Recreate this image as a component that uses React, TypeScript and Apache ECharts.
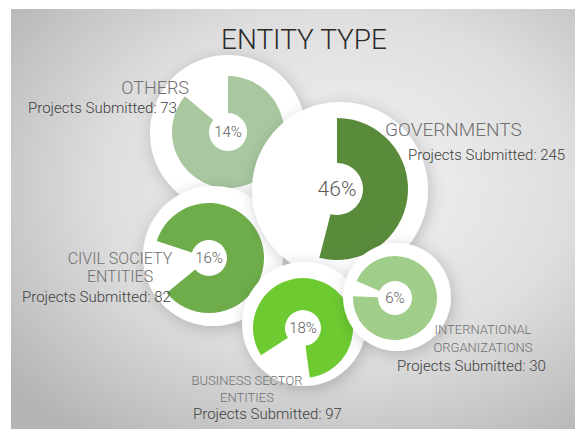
import React, { useEffect, useRef } from 'react';
import * as echarts from 'echarts';

const titleText = 'ENTITY TYPE';
const categories = ['OTHERS', 'GOVERNMENTS', 'CIVIL SOCIETY ENTITIES', 'BUSINESS SECTOR ENTITIES', 'INTERNATIONAL ORGANIZATIONS'];
const nameLines = [['OTHERS'], ['GOVERNMENTS'], ['CIVIL SOCIETY', 'ENTITIES'], ['BUSINESS SECTOR', 'ENTITIES'], ['INTERNATIONAL', 'ORGANIZATIONS']];
const percentages = [14, 46, 16, 18, 6];
const projectsSubmitted = [73, 245, 82, 97, 30];
const colors = ['#a9c8a0', '#5a8b3b', '#6fad4b', '#6dcb31', '#a0cd89'];

// layout (pixels) for each category, same order as categories
const layout = [
  { disc: [228, 133], discR: 78, ring: [228, 132], rIn: 19, rOut: 56, start: 90, pctSize: 15,
    name: { x: 189, y: 87, align: 'right', size: 18, lh: 18 }, proj: { x: 28, y: 108 }, z: 1 },
  { disc: [340, 190], discR: 88, ring: [337, 189], rIn: 26, rOut: 71, start: 90, pctSize: 21,
    name: { x: 385, y: 129, align: 'left', size: 19, lh: 18 }, proj: { x: 408, y: 155 }, z: 3 },
  { disc: [213, 256], discR: 70, ring: [209, 258], rIn: 18, rOut: 55, start: 162, pctSize: 15,
    name: { x: 120, y: 258, align: 'center', size: 16, lh: 18 }, proj: { x: 22, y: 297 }, z: 2 },
  { disc: [304, 324], discR: 62, ring: [303, 328], rIn: 18, rOut: 50, start: 213, pctSize: 15,
    name: { x: 247, y: 380, align: 'center', size: 13, lh: 17 }, proj: { x: 193, y: 414 }, z: 4 },
  { disc: [397, 297], discR: 54, ring: [395, 298], rIn: 17, rOut: 42, start: 156, pctSize: 15,
    name: { x: 483, y: 329, align: 'center', size: 13, lh: 18 }, proj: { x: 397, y: 366 }, z: 5 },
];

const FONT = 'Roboto';

export default function App() {
  const ref = useRef<HTMLDivElement>(null);
  useEffect(() => {
    document.body.style.margin = '0';
    const chart = echarts.init(ref.current!, null, { renderer: 'svg' });
    const series: any[] = [];
    const graphics: any[] = [
      {
        type: 'rect', z: -100, silent: true,
        shape: { x: 11, y: 9, width: 564, height: 420 },
        style: {
          fill: new echarts.graphic.RadialGradient(0.58, 0.42, 0.75, [
            { offset: 0, color: '#f4f4f4' },
            { offset: 0.55, color: '#dedede' },
            { offset: 1, color: '#b4b4b4' },
          ]),
        },
      },
    ];
    categories.forEach((cat, i) => {
      const L = layout[i];
      const p = percentages[i];
      series.push({
        type: 'pie', name: cat + ' disc', z: L.z * 2, silent: true,
        center: L.disc, radius: [0, L.discR], label: { show: false }, labelLine: { show: false },
        emphasis: { disabled: true },
        data: [{ value: 1, name: cat, itemStyle: { color: '#ffffff', shadowBlur: 16, shadowColor: 'rgba(0,0,0,0.2)', shadowOffsetX: 2, shadowOffsetY: 3 } }],
      });
      series.push({
        type: 'pie', name: cat, z: L.z * 2 + 1, silent: true,
        center: L.ring, radius: [L.rIn, L.rOut], startAngle: L.start, clockwise: true,
        avoidLabelOverlap: false, emphasis: { disabled: true }, labelLine: { show: false },
        data: [
          {
            value: 100 - p, name: cat, itemStyle: { color: colors[i] },
            label: { show: true, position: 'center', formatter: p + '%', fontFamily: FONT, fontWeight: 300, fontSize: L.pctSize, color: '#5a5a5a' },
          },
          { value: p, name: cat + ' share', itemStyle: { color: 'rgba(0,0,0,0)' }, label: { show: false } },
        ],
      });
      const lines = nameLines[i];
      lines.forEach((ln, j) => {
        graphics.push({
          type: 'text', z: 50, silent: true,
          x: L.name.x, y: L.name.y + j * L.name.lh,
          style: { text: ln, font: `300 ${L.name.size}px ${FONT}`, fill: '#707070', align: L.name.align, verticalAlign: 'middle' },
        });
      });
      graphics.push({
        type: 'text', z: 50, silent: true,
        x: L.proj.x, y: L.proj.y,
        style: { text: 'Projects Submitted: ' + projectsSubmitted[i], font: `300 15px ${FONT}`, fill: '#404040', align: 'left', verticalAlign: 'middle' },
      });
    });
    chart.setOption({
      animation: false,
      title: {
        text: titleText, left: 299, top: 20, textAlign: 'center',
        textStyle: { fontFamily: FONT, fontWeight: 300, fontSize: 28, color: '#2a2a2a' },
      },
      graphic: { elements: graphics },
      series,
    });
    return () => chart.dispose();
  }, []);
  return <div ref={ref} style={{ width: 575, height: 429 }} />;
}
